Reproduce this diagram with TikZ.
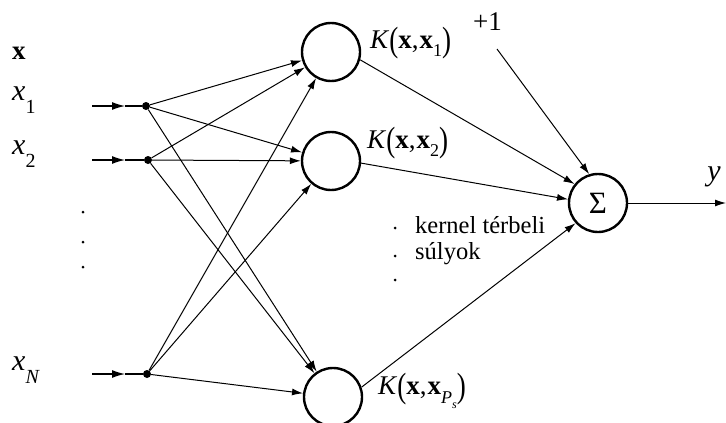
\documentclass[tikz,border=0pt]{standalone}
\usepackage{fontspec}
\usepackage{graphicx}
\setmainfont{Liberation Serif}
\usetikzlibrary{arrows.meta}
\newcommand\lowsub[1]{\raisebox{-0.45em}{\fontsize{20}{20}\selectfont #1}}
\newcommand\ksub[1]{\raisebox{-0.3em}{\fontsize{18}{18}\selectfont #1}}
\newcommand\bigpar[1]{\raisebox{-0.12em}{\scalebox{1}[1.3]{#1}}}
\begin{document}
\begin{tikzpicture}[x=1pt,y=-1pt,
  neuron/.style={circle, draw, line width=2.4pt, minimum size=58pt, inner sep=0pt},
  junction/.style={circle, fill, minimum size=8pt, inner sep=0pt},
  smalldot/.style={circle, fill, minimum size=3pt, inner sep=0pt},
  conn/.style={line width=1pt, -{Latex[length=11pt,width=7pt]}},
  inarrow/.style={line width=1.2pt, -{Latex[length=13pt,width=8pt]}},
  plain/.style={line width=1.2pt},
  lbl/.style={font=\fontsize{27}{30}\selectfont, inner sep=0pt}]
\useasboundingbox (0,0) rectangle (726,423);

% neurons
\node[neuron] (k1) at (331,52) {};
\node[neuron] (k2) at (331,161) {};
\node[neuron] (k3) at (333,397) {};
\node[neuron, font=\fontsize{31}{32}\selectfont] (sum) at (598,203) {Σ};

% junctions
\node[junction] (j1) at (146,106) {};
\node[junction] (j2) at (148,160) {};
\node[junction] (jn) at (147,374) {};

% input arrows
\coordinate (s1) at (92,106); \coordinate (m1) at (125,106);
\coordinate (s2) at (92,160); \coordinate (m2) at (125,160);
\coordinate (sn) at (92,374); \coordinate (mn) at (125,374);
\draw[inarrow] (s1) -- (m1); \draw[plain] (m1) -- (j1);
\draw[inarrow] (s2) -- (m2); \draw[plain] (m2) -- (j2);
\draw[inarrow] (sn) -- (mn); \draw[plain] (mn) -- (jn);

% input labels
\node[lbl, anchor=west] (lx) at (12,53) {\textbf{x}};
\node[lbl, anchor=west, font=\fontsize{30}{32}\selectfont] (lx1) at (12,100) {\textit{x}\lowsub{1}};
\node[lbl, anchor=west, font=\fontsize{30}{32}\selectfont] (lx2) at (12,154) {\textit{x}\lowsub{2}};
\node[lbl, anchor=west, font=\fontsize{30}{32}\selectfont] (lxn) at (12,370) {\textit{x}\lowsub{\textit{N}}};

% vertical dots
\node[smalldot] (v1) at (83,212) {};
\node[smalldot] (v2) at (83,242) {};
\node[smalldot] (v3) at (83,267) {};

% junction to neurons
\foreach \j in {j1,j2,jn}{
  \foreach \k in {k1,k2,k3}{
    \draw[conn] (\j) -- (\k);
  }
}

% neurons to sum
\draw[conn] (k1.-15) -- (sum.141);
\draw[conn] (k2.-4) -- (sum.173);
\draw[conn] (k3.19) -- (sum.222);

% bias
\node[lbl, anchor=south west] (bias) at (473,31) {+1};
\coordinate (p1) at (497,49);
\draw[conn] (p1) -- (sum.107);

% output
\coordinate (out) at (726,203);
\draw[conn] (sum) -- (out);
\node[lbl, anchor=center, font=\fontsize{30}{32}\selectfont] (ly) at (714,177) {\textit{y}};

% kernel labels
\node[lbl, anchor=west] (lk1) at (370,43) {\textit{K}\bigpar{(}\textbf{x},\kern1pt\textbf{x}\ksub{1}\bigpar{)}};
\node[lbl, anchor=west] (lk2) at (367,143) {\textit{K}\bigpar{(}\textbf{x},\kern1pt\textbf{x}\ksub{2}\bigpar{)}};
\node[lbl, anchor=west] (lk3) at (378,391) {\textit{K}\bigpar{(}\textbf{x},\kern1pt\textbf{x}\raisebox{-0.35em}{\fontsize{18}{18}\selectfont\textit{P}\raisebox{-0.25em}{\fontsize{12}{12}\selectfont\textit{s}}}\bigpar{)}};

% middle text
\node[smalldot] (c1) at (395,228) {};
\node[smalldot] (c2) at (395,256) {};
\node[smalldot] (c3) at (395,280) {};
\node[lbl, anchor=west, font=\fontsize{24.5}{28}\selectfont] (kt) at (415,225) {kernel térbeli};
\node[lbl, anchor=west, font=\fontsize{24.5}{28}\selectfont] (sw) at (415,254) {súlyok};
\end{tikzpicture}
\end{document}
